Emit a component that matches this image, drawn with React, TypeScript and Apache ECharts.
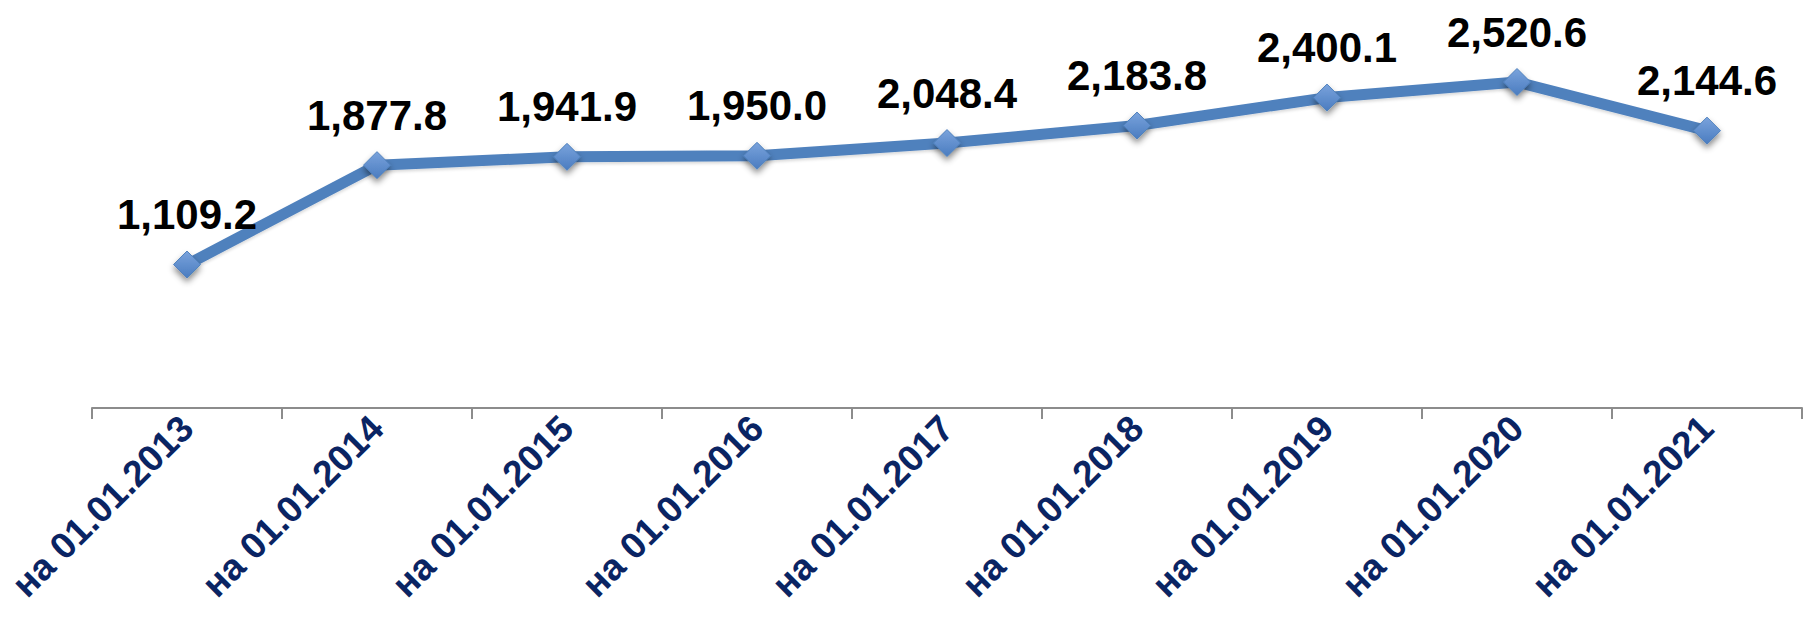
import React, { useEffect, useRef } from "react";
import * as echarts from "echarts";

const categories = [
  "на 01.01.2013",
  "на 01.01.2014",
  "на 01.01.2015",
  "на 01.01.2016",
  "на 01.01.2017",
  "на 01.01.2018",
  "на 01.01.2019",
  "на 01.01.2020",
  "на 01.01.2021",
];

const values = [1109.2, 1877.8, 1941.9, 1950.0, 2048.4, 2183.8, 2400.1, 2520.6, 2144.6];

function fmt(v: number): string {
  const fixed = v.toFixed(1);
  const [intPart, dec] = fixed.split(".");
  const withCommas = intPart.replace(/\B(?=(\d{3})+(?!\d))/g, ",");
  return withCommas + "." + dec;
}

export default function App() {
  const ref = useRef<HTMLDivElement>(null);

  useEffect(() => {
    document.body.style.margin = "0";
    if (!ref.current) return;
    const chart = echarts.init(ref.current, undefined, { renderer: "svg" });
    chart.setOption({
      animation: false,
      backgroundColor: "#ffffff",
      grid: { left: 92, right: 2, top: 20, bottom: 218, containLabel: false },
      xAxis: {
        type: "category",
        data: categories,
        boundaryGap: true,
        axisLine: { show: true, lineStyle: { color: "#8c8c8c", width: 2 } },
        axisTick: { show: true, length: 11, lineStyle: { color: "#8c8c8c", width: 2 } },
        axisLabel: {
          rotate: 45,
          interval: 0,
          margin: 14,
          color: "#0a2463",
          fontFamily: "Liberation Sans, Arial, sans-serif",
          fontWeight: "bold",
          fontSize: 37,
        },
        splitLine: { show: false },
      },
      yAxis: {
        type: "value",
        min: 0,
        max: 3000,
        show: false,
        splitLine: { show: false },
      },
      series: [
        {
          type: "line",
          data: values,
          symbol: "diamond",
          symbolSize: [27, 27],
          lineStyle: {
            color: "#4f81bd",
            width: 11,
            shadowColor: "rgba(0,0,0,0.15)",
            shadowBlur: 3,
            shadowOffsetY: 2,
          },
          itemStyle: {
            color: new echarts.graphic.LinearGradient(0, 0, 0, 1, [
              { offset: 0, color: "#7aa3dc" },
              { offset: 1, color: "#4a7cc0" },
            ]),
            borderColor: "#4f81bd",
            borderWidth: 1,
            shadowColor: "rgba(0,0,0,0.45)",
            shadowBlur: 6,
            shadowOffsetY: 4,
          },
          label: {
            show: true,
            position: "top",
            distance: 15,
            formatter: (p: any) => fmt(p.value),
            color: "#000000",
            fontFamily: "Liberation Sans, Arial, sans-serif",
            fontWeight: "bold",
            fontSize: 42,
          },
        },
      ],
    });
    return () => chart.dispose();
  }, []);

  return <div ref={ref} style={{ width: 1804, height: 626 }} />;
}
